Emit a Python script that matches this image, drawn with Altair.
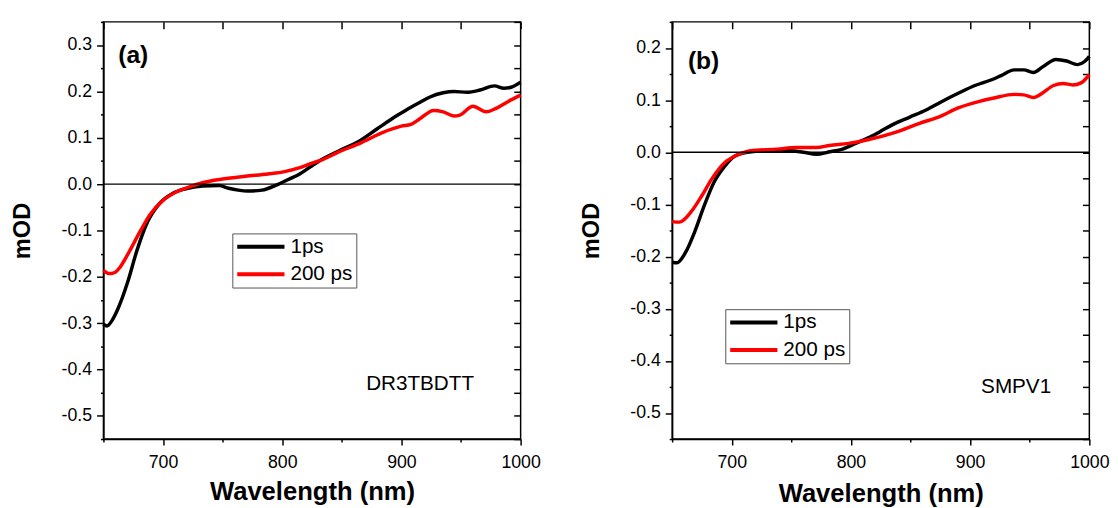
import altair as alt
import pandas as pd

# ---------------- data ----------------
# Panel (a): DR3TBDTT
a_wl_1ps = [650, 653, 657, 662, 670, 678, 686, 697, 708, 719, 733, 747, 755, 763, 771, 783, 796,
            805, 814, 824, 831, 847, 864, 880, 897, 908, 916, 924, 935, 944, 955, 966, 978, 986, 992, 1000]
a_od_1ps = [-0.302, -0.306, -0.295, -0.270, -0.214, -0.144, -0.087, -0.042, -0.020, -0.010, -0.004,
            -0.003, -0.009, -0.013, -0.015, -0.013, -0.001, 0.010, 0.021, 0.038, 0.050, 0.071, 0.092,
            0.120, 0.149, 0.166, 0.177, 0.188, 0.197, 0.200, 0.198, 0.203, 0.212, 0.207, 0.209, 0.220]
a_wl_200ps = [650, 655, 660, 664, 672, 681, 689, 700, 711, 722, 733, 750, 769, 788, 802, 814, 827,
              831, 847, 866, 883, 900, 908, 916, 927, 935, 944, 949, 960, 971, 979, 990, 1000]
a_od_200ps = [-0.186, -0.193, -0.190, -0.179, -0.144, -0.101, -0.066, -0.035, -0.017, -0.006, 0.003,
              0.011, 0.017, 0.022, 0.027, 0.035, 0.047, 0.050, 0.069, 0.089, 0.110, 0.125, 0.129,
              0.142, 0.159, 0.156, 0.147, 0.149, 0.168, 0.156, 0.163, 0.179, 0.192]

# Panel (b): SMPV1
b_wl_1ps = [650, 654, 661, 669, 677, 685, 694, 702, 713, 727, 749, 760, 771, 782, 793, 804, 814, 824,
            835, 849, 863, 876, 890, 904, 918, 926, 937, 945, 953, 961, 972, 981, 990, 996, 1000]
b_od_1ps = [-0.211, -0.212, -0.193, -0.152, -0.102, -0.058, -0.027, -0.008, 0.000, 0.003, 0.003,
            0.000, -0.004, 0.001, 0.006, 0.017, 0.027, 0.039, 0.053, 0.067, 0.081, 0.097, 0.113,
            0.128, 0.139, 0.147, 0.158, 0.158, 0.153, 0.164, 0.178, 0.175, 0.168, 0.174, 0.184]
b_wl_200ps = [650, 656, 666, 675, 683, 694, 705, 716, 738, 754, 771, 782, 798, 814, 825, 841, 857,
              874, 890, 907, 920, 937, 945, 953, 959, 970, 978, 986, 993, 1000]
b_od_200ps = [-0.133, -0.134, -0.114, -0.083, -0.052, -0.020, -0.005, 0.003, 0.006, 0.009, 0.009,
              0.013, 0.017, 0.024, 0.030, 0.041, 0.055, 0.068, 0.085, 0.097, 0.104, 0.111, 0.110,
              0.105, 0.111, 0.128, 0.132, 0.129, 0.133, 0.149]

series_names = ["1ps", "200 ps"]
series_colors = ["#000000", "#ff0000"]

x_domain = [650, 1000]
x_major = [700, 800, 900, 1000]
x_minor = [650, 750, 850, 950]
x_all = [650, 700, 750, 800, 850, 900, 950, 1000]

a_y_domain = [-0.55, 0.35]
a_y_major = [-0.5, -0.4, -0.3, -0.2, -0.1, 0.0, 0.1, 0.2, 0.3]
a_y_minor = [-0.55, -0.45, -0.35, -0.25, -0.15, -0.05, 0.05, 0.15, 0.25, 0.35]
b_y_domain = [-0.55, 0.25]
b_y_major = [-0.5, -0.4, -0.3, -0.2, -0.1, 0.0, 0.1, 0.2]
b_y_minor = [-0.55, -0.45, -0.35, -0.25, -0.15, -0.05, 0.05, 0.15, 0.25]

zero_level = [0.0]

# ---------------- styling ----------------
FONT = "Liberation Sans"
W = 424
H = 424
LABEL_EXPR = "datum.value < 0 ? '-' + format(-datum.value, '.1f') : format(datum.value, '.1f')"


def panel(wl1, od1, wl2, od2, y_domain, y_major, y_minor, tag, name,
          legend_x, legend_y, tag_x, tag_y, name_x, name_y, xtitle_pad):
    df = pd.DataFrame({
        "wl": wl1 + wl2,
        "od": od1 + od2,
        "series": [series_names[0]] * len(wl1) + [series_names[1]] * len(wl2),
    })
    y_all = sorted(y_major + y_minor)
    xs = alt.Scale(domain=x_domain, nice=False, zero=False)
    ys = alt.Scale(domain=y_domain, nice=False, zero=False)
    base = alt.Chart(df)

    lines = base.mark_line(strokeWidth=3.5, interpolate="monotone").encode(
        x=alt.X("wl:Q", scale=xs, axis=alt.Axis(
            orient="bottom", values=x_major, format="d", tickSize=6, tickWidth=1.5,
            domainWidth=1.5, labelFontSize=18, labelPadding=9, labelFlush=False,
            title="Wavelength (nm)", titleFontSize=26, titleFontWeight="bold",
            titlePadding=xtitle_pad)),
        y=alt.Y("od:Q", scale=ys, axis=alt.Axis(
            orient="left", values=y_major, tickSize=7, tickWidth=1.5,
            domainWidth=1.5, labelFontSize=18, labelPadding=5,
            labelExpr=LABEL_EXPR, title="mOD", titleFontSize=24,
            titleFontWeight="bold", titlePadding=27)),
        color=alt.Color("series:N",
                        scale=alt.Scale(domain=series_names, range=series_colors),
                        legend=alt.Legend(
                            title=None, orient="none", legendX=legend_x, legendY=legend_y,
                            direction="vertical", symbolType="stroke", symbolSize=2304,
                            symbolStrokeWidth=4, labelFontSize=21, labelColor="black",
                            labelFont=FONT, strokeColor="#555555", fillColor="white",
                            padding=3, rowPadding=6, labelOffset=4, clipHeight=21)),
    )

    minor = base.mark_line(opacity=0).encode(
        x=alt.X("wl:Q", scale=xs, axis=alt.Axis(
            orient="bottom", values=x_minor, tickSize=3, tickWidth=1.5,
            labels=False, domain=False, title=None)),
        y=alt.Y("od:Q", scale=ys, axis=alt.Axis(
            orient="left", values=y_minor, tickSize=3, tickWidth=1.5,
            labels=False, domain=False, title=None)),
    )

    inner = base.mark_line(opacity=0).encode(
        x=alt.X("wl:Q", scale=xs, axis=alt.Axis(
            orient="top", values=x_all, tickSize=7, tickWidth=1.5, offset=-7,
            labels=False, domain=False, title=None)),
        y=alt.Y("od:Q", scale=ys, axis=alt.Axis(
            orient="right", values=y_all, tickSize=7, tickWidth=1.5, offset=-7,
            labels=False, domain=False, title=None)),
    )

    rule = alt.Chart(pd.DataFrame({"level": zero_level})).mark_rule(
        color="black", strokeWidth=1.5).encode(
        y=alt.Y("level:Q", scale=ys, axis=None))

    tag_text = alt.Chart(pd.DataFrame({"t": [tag]})).mark_text(
        font=FONT, fontSize=25, fontWeight="bold", align="left", baseline="middle",
        color="black").encode(text="t:N", x=alt.value(tag_x), y=alt.value(tag_y))

    name_text = alt.Chart(pd.DataFrame({"t": [name]})).mark_text(
        font=FONT, fontSize=21, align="left", baseline="middle",
        color="black").encode(text="t:N", x=alt.value(name_x), y=alt.value(name_y))

    return alt.layer(lines, minor, inner, rule, tag_text, name_text).resolve_axis(
        x="independent", y="independent").properties(width=W, height=H)


pa = panel(a_wl_1ps, a_od_1ps, a_wl_200ps, a_od_200ps, a_y_domain, a_y_major, a_y_minor,
           "(a)", "DR3TBDTT", 131, 215, 15, 34, 267, 368, 7)
pb = panel(b_wl_1ps, b_od_1ps, b_wl_200ps, b_od_200ps, b_y_domain, b_y_major, b_y_minor,
           "(b)", "SMPV1", 54, 292, 16, 40, 314, 371, 9)

chart = alt.hconcat(pa, pb, spacing=38).resolve_scale(color="independent").resolve_legend(
    color="independent").properties(
    padding={"left": 2, "top": 8, "right": 0, "bottom": 0}
).configure_view(stroke="black", strokeWidth=1.5).configure_axis(
    grid=False, labelFont=FONT, titleFont=FONT, labelColor="black", titleColor="black",
    tickColor="black", domainColor="black"
)

chart.save("out.html", embed_options={"renderer": "svg", "actions": False})
